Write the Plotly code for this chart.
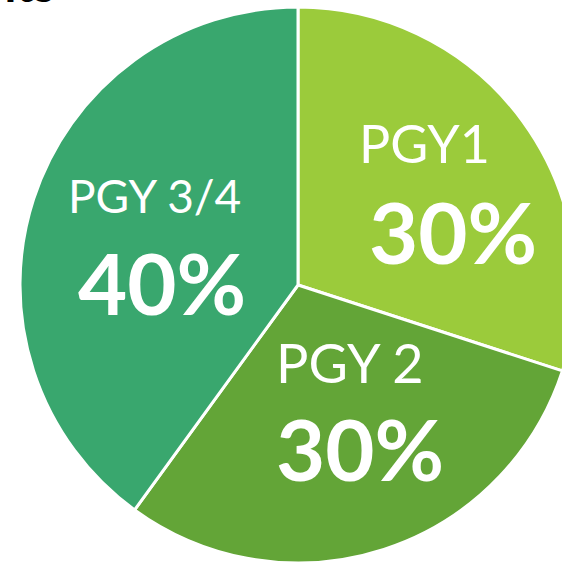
import plotly.graph_objects as go

labels = ["PGY1", "PGY 2", "PGY 3/4"]
values = [30, 30, 40]
pct_text = ["30%", "30%", "40%"]
colors = ["#9BCB3B", "#63A537", "#39A76E"]
title_text = "Residents"

W, H = 600, 564
cx, cy, r = 298, 285, 278

def px(x):
    return x / W

def py(y):
    return 1 - y / H

fig = go.Figure(go.Pie(
    labels=labels,
    values=values,
    sort=False,
    direction="clockwise",
    rotation=0,
    textinfo="none",
    hoverinfo="none",
    marker=dict(colors=colors, line=dict(color="white", width=3)),
    domain=dict(x=[px(cx - r), px(cx + r)], y=[max(0, py(cy + r)), min(1, py(cy - r))]),
    showlegend=False,
))

# label placements (pixel centres) and font sizes
label_pos = [(424, 143), (350, 362), (154, 196)]
label_size = [52, 54, 46]
pct_pos = [(453, 231), (360, 448), (162, 282)]
pct_size = [85, 85, 85]

ann = []
for i in range(3):
    ann.append(dict(x=px(label_pos[i][0]), y=py(label_pos[i][1]), xref="paper", yref="paper",
                    text=labels[i], showarrow=False, xanchor="center", yanchor="middle",
                    font=dict(family="Lato", size=label_size[i], color="white")))
    ann.append(dict(x=px(pct_pos[i][0]), y=py(pct_pos[i][1]), xref="paper", yref="paper",
                    text="<b>" + pct_text[i] + "</b>", showarrow=False, xanchor="center", yanchor="middle",
                    font=dict(family="Lato", size=pct_size[i], color="white")))
ann.append(dict(x=px(57), y=py(14), xref="paper", yref="paper",
                text="<b>" + title_text + "</b>", showarrow=False, xanchor="right", yanchor="bottom",
                font=dict(family="Lato", size=48, color="black")))

fig.update_layout(
    width=W, height=H,
    margin=dict(l=0, r=0, t=0, b=0),
    paper_bgcolor="white",
    plot_bgcolor="white",
    annotations=ann,
)

fig.write_html(
    "out.html",
    config={"displayModeBar": False},
    post_script="document.body.style.margin='0';document.body.style.overflow='hidden';",
)
